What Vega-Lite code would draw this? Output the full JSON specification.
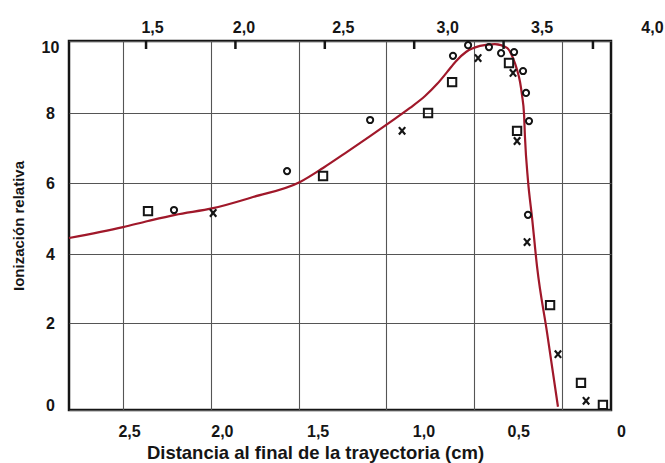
{
  "$schema": "https://vega.github.io/schema/vega-lite/v6.json",
  "width": 542,
  "height": 369,
  "autosize": {"type": "none"},
  "padding": {"left": 69, "top": 41, "right": 54, "bottom": 53},
  "background": "white",
  "config": {
    "font": "Liberation Sans",
    "view": {"stroke": "#151515", "strokeWidth": 2.5},
    "axis": {
      "labelFont": "Liberation Sans",
      "labelFontWeight": "bold",
      "labelFontSize": 16,
      "labelColor": "#151515",
      "titleFont": "Liberation Sans",
      "titleFontWeight": "bold",
      "titleColor": "#151515",
      "labelFlush": false,
      "labelOverlap": false,
      "gridColor": "#555555",
      "gridWidth": 1.1,
      "gridOpacity": 1
    }
  },
  "datasets": {
    "curva": [
      {"distancia": 2.808, "ionizacion": 4.47},
      {"distancia": 2.5, "ionizacion": 4.79},
      {"distancia": 2.358, "ionizacion": 4.97},
      {"distancia": 2.204, "ionizacion": 5.14},
      {"distancia": 1.987, "ionizacion": 5.32},
      {"distancia": 1.76, "ionizacion": 5.62},
      {"distancia": 1.492, "ionizacion": 6.03},
      {"distancia": 1.361, "ionizacion": 6.43},
      {"distancia": 1.224, "ionizacion": 6.89},
      {"distancia": 1.093, "ionizacion": 7.34},
      {"distancia": 0.979, "ionizacion": 7.74},
      {"distancia": 0.866, "ionizacion": 8.15},
      {"distancia": 0.78, "ionizacion": 8.5},
      {"distancia": 0.712, "ionizacion": 8.85},
      {"distancia": 0.655, "ionizacion": 9.18},
      {"distancia": 0.604, "ionizacion": 9.47},
      {"distancia": 0.547, "ionizacion": 9.71},
      {"distancia": 0.467, "ionizacion": 9.87},
      {"distancia": 0.382, "ionizacion": 9.92},
      {"distancia": 0.313, "ionizacion": 9.82},
      {"distancia": 0.279, "ionizacion": 9.55},
      {"distancia": 0.256, "ionizacion": 9.24},
      {"distancia": 0.239, "ionizacion": 8.91},
      {"distancia": 0.228, "ionizacion": 8.53},
      {"distancia": 0.216, "ionizacion": 7.94},
      {"distancia": 0.211, "ionizacion": 7.31},
      {"distancia": 0.194, "ionizacion": 6.08},
      {"distancia": 0.171, "ionizacion": 5.08},
      {"distancia": 0.142, "ionizacion": 3.62},
      {"distancia": 0.085, "ionizacion": 1.76},
      {"distancia": 0.023, "ionizacion": 0.07}
    ],
    "medidas": [
      {"serie": "cuadrado", "distancia": 2.358, "ionizacion": 5.24},
      {"serie": "cuadrado", "distancia": 1.361, "ionizacion": 6.2},
      {"serie": "cuadrado", "distancia": 0.763, "ionizacion": 8.0},
      {"serie": "cuadrado", "distancia": 0.626, "ionizacion": 8.91},
      {"serie": "cuadrado", "distancia": 0.302, "ionizacion": 9.42},
      {"serie": "cuadrado", "distancia": 0.256, "ionizacion": 7.49},
      {"serie": "cuadrado", "distancia": 0.068, "ionizacion": 2.51},
      {"serie": "cuadrado", "distancia": -0.108, "ionizacion": 0.59},
      {"serie": "cuadrado", "distancia": -0.233, "ionizacion": 0.11},
      {"serie": "circulo", "distancia": 2.21, "ionizacion": 5.27},
      {"serie": "circulo", "distancia": 1.566, "ionizacion": 6.34},
      {"serie": "circulo", "distancia": 1.093, "ionizacion": 7.8},
      {"serie": "circulo", "distancia": 0.621, "ionizacion": 9.61},
      {"serie": "circulo", "distancia": 0.535, "ionizacion": 9.89},
      {"serie": "circulo", "distancia": 0.416, "ionizacion": 9.84},
      {"serie": "circulo", "distancia": 0.347, "ionizacion": 9.68},
      {"serie": "circulo", "distancia": 0.273, "ionizacion": 9.71},
      {"serie": "circulo", "distancia": 0.222, "ionizacion": 9.21},
      {"serie": "circulo", "distancia": 0.205, "ionizacion": 8.59},
      {"serie": "circulo", "distancia": 0.188, "ionizacion": 7.77},
      {"serie": "circulo", "distancia": 0.194, "ionizacion": 5.14},
      {"serie": "equis", "distancia": 1.987, "ionizacion": 5.19},
      {"serie": "equis", "distancia": 0.911, "ionizacion": 7.49},
      {"serie": "equis", "distancia": 0.478, "ionizacion": 9.55},
      {"serie": "equis", "distancia": 0.279, "ionizacion": 9.16},
      {"serie": "equis", "distancia": 0.256, "ionizacion": 7.2},
      {"serie": "equis", "distancia": 0.199, "ionizacion": 4.35},
      {"serie": "equis", "distancia": 0.023, "ionizacion": 1.24},
      {"serie": "equis", "distancia": -0.137, "ionizacion": 0.2}
    ],
    "alcance": [
      {"alcance": 1.5},
      {"alcance": 2.0},
      {"alcance": 2.5},
      {"alcance": 3.0},
      {"alcance": 3.5},
      {"alcance": 4.0}
    ]
  },
  "layer": [
    {
      "layer": [
        {
          "data": {"name": "curva"},
          "mark": {"type": "line", "color": "#a0182a", "strokeWidth": 2.2, "interpolate": "monotone"},
          "encoding": {
            "x": {
              "field": "distancia",
              "type": "quantitative",
              "scale": {"domain": [-0.279, 2.808], "reverse": true, "nice": false, "zero": false},
              "axis": {
                "orient": "bottom",
                "values": [0, 0.5, 1, 1.5, 2, 2.5],
                "labelExpr": "datum.value == 0 ? '0' : replace(format(datum.value, '.1f'), '.', ',')",
                "grid": true,
                "ticks": false,
                "domain": false,
                "labelPadding": 13,
                "labelOffset": {"expr": "datum.value == 0 ? 59 : datum.value == 0.5 ? 44 : datum.value == 1 ? 37 : datum.value == 1.5 ? 19 : datum.value == 2 ? 11 : 6"},
                "title": "Distancia al final de la trayectoria (cm)",
                "titleFontSize": 18.5,
                "titleX": 246,
                "titleY": 42,
                "titleAlign": "center",
                "titleBaseline": "middle"
              }
            },
            "y": {
              "field": "ionizacion",
              "type": "quantitative",
              "scale": {
                "domain": [0, 1, 2, 3, 4, 5, 6, 7, 8, 9, 10],
                "range": [369, 323, 282, 247, 213, 179, 142, 107, 72, 38, 0],
                "nice": false,
                "zero": false
              },
              "axis": {
                "values": [0, 1, 2, 3, 4, 5, 6, 7, 8, 9, 10],
                "labelExpr": "datum.value % 2 == 0 ? datum.label : ''",
                "grid": true,
                "ticks": false,
                "domain": false,
                "labelAlign": "center",
                "labelBaseline": "middle",
                "labelPadding": 19,
                "labelOffset": {"expr": "datum.value == 10 ? 6 : datum.value == 0 ? -5 : 0"},
                "title": "Ionización relativa",
                "titleFontSize": 15,
                "titleAngle": -90,
                "titleX": -51,
                "titleY": 184.5,
                "titleAlign": "center",
                "titleBaseline": "middle"
              }
            }
          }
        },
        {
          "data": {"name": "medidas"},
          "transform": [{"filter": "datum.serie == 'circulo'"}],
          "mark": {"type": "point", "shape": "circle", "filled": false, "color": "#151515", "strokeWidth": 2, "size": 38, "opacity": 1},
          "encoding": {
            "x": {"field": "distancia", "type": "quantitative"},
            "y": {"field": "ionizacion", "type": "quantitative"}
          }
        },
        {
          "data": {"name": "medidas"},
          "transform": [{"filter": "datum.serie == 'cuadrado'"}],
          "mark": {"type": "point", "shape": "square", "filled": false, "color": "#151515", "strokeWidth": 2, "size": 70, "opacity": 1},
          "encoding": {
            "x": {"field": "distancia", "type": "quantitative"},
            "y": {"field": "ionizacion", "type": "quantitative"}
          }
        },
        {
          "data": {"name": "medidas"},
          "transform": [{"filter": "datum.serie == 'equis'"}],
          "mark": {"type": "point", "shape": "M-0.85,-1L0.85,1M-0.85,1L0.85,-1", "filled": false, "color": "#151515", "strokeWidth": 2.2, "size": 55, "opacity": 1},
          "encoding": {
            "x": {"field": "distancia", "type": "quantitative"},
            "y": {"field": "ionizacion", "type": "quantitative"}
          }
        }
      ]
    },
    {
      "data": {"name": "alcance"},
      "mark": {"type": "tick", "orient": "vertical", "color": "#151515", "thickness": 2.5, "size": 8, "yOffset": 4, "opacity": 1},
      "encoding": {
        "x": {
          "field": "alcance",
          "type": "quantitative",
          "scale": {"domain": [1.069, 4.101], "nice": false, "zero": false},
          "axis": {
            "orient": "top",
            "values": [1.5, 2.0, 2.5, 3.0, 3.5, 4.0],
            "labelExpr": "replace(format(datum.value, '.1f'), '.', ',')",
            "grid": false,
            "domain": false,
            "ticks": false,
            "labelPadding": 6,
            "labelOffset": {"expr": "datum.value == 4 ? 59 : datum.value == 3.5 ? 38 : datum.value == 3 ? 33 : datum.value == 2.5 ? 18 : datum.value == 2 ? 8 : 6"},
            "title": null
          }
        },
        "y": {"datum": 10, "type": "quantitative"}
      }
    }
  ],
  "resolve": {"scale": {"x": "independent"}}
}
